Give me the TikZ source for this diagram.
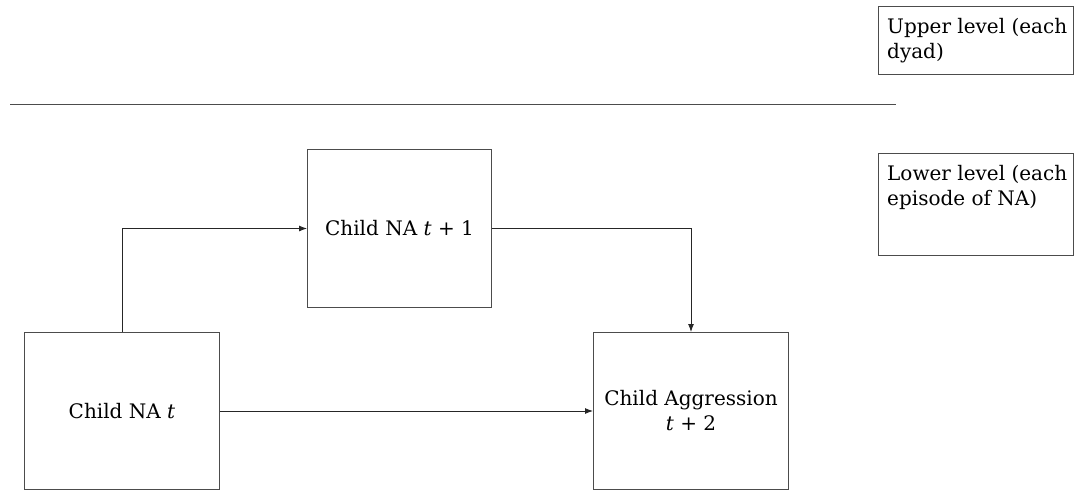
\documentclass[tikz,border=0pt]{standalone}
\usepackage{fontspec}
\setmainfont{DejaVu Serif}
\usetikzlibrary{arrows.meta}
\begin{document}
\begin{tikzpicture}[x=1pt,y=-1pt,
  box/.style={draw=black!70,line width=1pt,inner sep=0pt,anchor=north west,
              font=\fontsize{20}{25}\selectfont,align=center},
  note/.style={inner sep=0pt,anchor=north west,align=left,
               font=\fontsize{20}{25}\selectfont},
  conn/.style={draw=black!85,line width=0.9pt,-{Latex[length=8pt,width=6pt]}},
  rule/.style={draw=black!70,line width=0.9pt},
]
\useasboundingbox (0,0) rectangle (1075,490);
\clip (0,0) rectangle (1075,490);

% level legend
\node[box, minimum width=195, minimum height=68] (upper) at (878,6) {};
\node[note] (uppertxt) at (887,18) {Upper level (each\\dyad)};
\node[box, minimum width=195, minimum height=102] (lower) at (878,153) {};
\node[note] (lowertxt) at (887,165) {Lower level (each\\episode of NA)};

% divider between levels
\coordinate (divL) at (10,104);
\coordinate (divR) at (896,104);
\draw[rule] (divL) -- (divR);

% model variables
\node[box, minimum width=184, minimum height=158] (na1) at (307,149) {Child NA \textit{t} + 1};
\node[box, minimum width=195, minimum height=157] (na) at (24,332) {Child NA \textit{t}};
\node[box, minimum width=195, minimum height=157] (agg) at (593,332) {Child Aggression\\\textit{t} + 2};

% paths
\draw[conn] (na.north) |- (na1.west);
\draw[conn] (na1.east) -| (agg.north);
\draw[conn] (na.east) -- (agg.west);
\end{tikzpicture}
\end{document}
